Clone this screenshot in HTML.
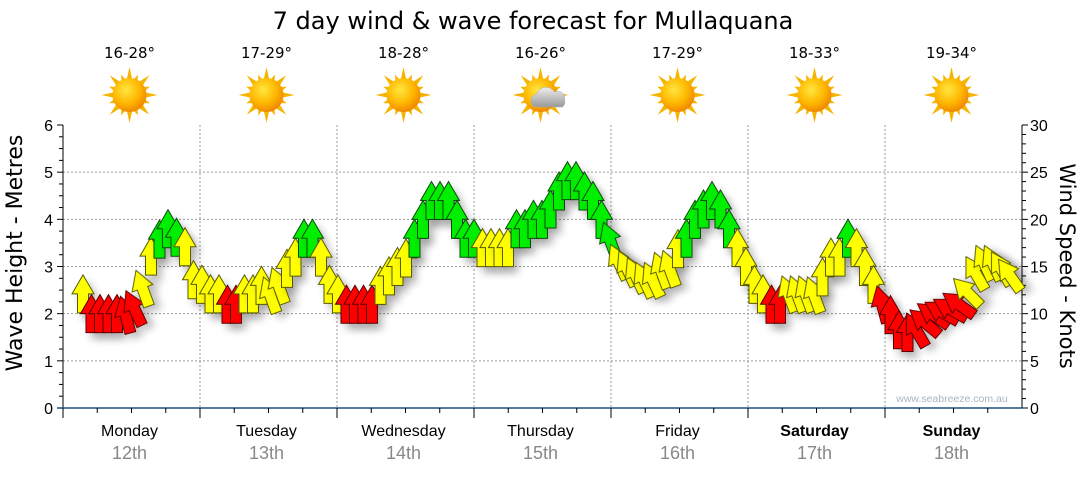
<!DOCTYPE html>
<html><head><meta charset="utf-8"><style>
body{margin:0;background:#fff;}
svg text{font-family:"Liberation Sans","DejaVu Sans",sans-serif;}
</style></head><body>
<svg id="c" width="1080" height="475" viewBox="0 0 1080 475" xmlns="http://www.w3.org/2000/svg">
<defs>
<filter id="sh" x="-50%" y="-50%" width="200%" height="200%"><feGaussianBlur in="SourceAlpha" stdDeviation="4"/><feOffset dx="5" dy="6" result="b"/><feComponentTransfer><feFuncA type="linear" slope="0.25"/></feComponentTransfer><feMerge><feMergeNode/><feMergeNode in="SourceGraphic"/></feMerge></filter>
<radialGradient id="sunG" cx="40%" cy="35%" r="65%"><stop offset="0" stop-color="#ffe640"/><stop offset="0.6" stop-color="#ffb800"/><stop offset="1" stop-color="#f08a00"/></radialGradient>
<linearGradient id="cloudG" x1="0" y1="0" x2="0" y2="1"><stop offset="0" stop-color="#eee"/><stop offset="1" stop-color="#999"/></linearGradient>
</defs>
<text x="533" y="29" font-size="24" text-anchor="middle" fill="#000" style="font-family:'DejaVu Sans',sans-serif">7 day wind &amp; wave forecast for Mullaquana</text>
<g id="grid"></g>
<g id="axes"></g>
<g id="icons"></g>
<g id="arrows"></g>
<text x="952" y="402" font-size="10.5" text-anchor="middle" fill="#aab4c4">www.seabreeze.com.au</text>
<text transform="translate(22,253) rotate(-90)" font-size="22" text-anchor="middle" style="font-family:'DejaVu Sans',sans-serif">Wave Height - Metres</text>
<text transform="translate(1060,266) rotate(90)" font-size="21" text-anchor="middle" style="font-family:'DejaVu Sans',sans-serif">Wind Speed - Knots</text>
</svg>
<script>
const days = ["Monday","Tuesday","Wednesday","Thursday","Friday","Saturday","Sunday"];
const dates = ["12th","13th","14th","15th","16th","17th","18th"];
const temps = ["16-28°","17-29°","18-28°","16-26°","17-29°","18-33°","19-34°"];
const weather = ["sun","sun","sun","cloud","sun","sun","sun"];
const waveTicks = [0,1,2,3,4,5,6];
const windTicks = [0,5,10,15,20,25,30];
// arrow center wind speed (knots)
const windSpeed = [12.1,10.0,10.0,10.0,10.0,9.9,10.6,12.7,16.1,17.9,19.0,18.1,17.1,13.6,
13.1,12.1,12.1,11.0,11.0,12.1,12.1,13.0,12.0,13.0,14.8,16.0,18.0,18.0,16.0,13.1,
12.1,11.0,11.0,11.0,11.0,13.0,14.0,15.0,15.9,18.0,20.0,22.0,22.0,22.0,20.0,18.0,
18.0,17.0,17.0,17.0,17.0,19.0,19.0,20.0,20.0,21.1,23.0,24.1,24.1,23.0,22.0,20.0,
17.8,15.5,14.8,14.1,13.6,13.6,14.6,14.8,16.9,18.0,20.0,21.1,22.0,21.1,19.0,17.0,
15.0,13.1,12.1,11.0,11.0,12.1,12.1,12.1,12.0,13.9,16.0,16.0,18.0,17.0,15.0,13.1,
11.0,9.9,8.3,8.0,8.3,9.1,9.9,10.2,10.5,11.0,12.3,14.3,15.4,15.4,14.8,14.1];
// arrow rotation (degrees, 0 = up)
const windDir = [0,0,0,0,0,-15,-25,-20,0,0,0,0,0,0,
0,0,0,0,0,0,0,0,-20,-20,0,0,0,0,0,0,
0,0,0,0,0,0,0,0,0,0,0,0,0,0,0,0,
0,0,0,0,0,0,0,0,0,0,0,0,0,0,0,0,
-20,-25,-25,-25,-25,-25,-20,-20,0,0,0,0,0,0,0,0,
0,0,0,0,0,-20,-20,-20,-20,0,0,0,0,0,0,0,
-15,0,0,0,-30,-50,-55,-60,-60,-55,-45,-30,-25,-25,-30,-35];
// colour category
const windCat = ["y","r","r","r","r","r","r","y","y","g","g","g","y","y",
"y","y","y","r","r","y","y","y","y","y","y","y","g","g","y","y",
"y","r","r","r","r","y","y","y","y","g","g","g","g","g","g","g",
"g","y","y","y","y","g","g","g","g","g","g","g","g","g","g","g",
"g","y","y","y","y","y","y","y","y","g","g","g","g","g","g","y",
"y","y","y","r","r","y","y","y","y","y","y","y","g","y","y","y",
"r","r","r","r","r","r","r","r","r","r","y","y","y","y","y","y"];

const NS="http://www.w3.org/2000/svg";
const L=63,R=1022,T=125,B=408;
const dayW=(R-L)/7;
const yWave=v=>B-(v/6)*(B-T);
const yWind=v=>B-(v/30)*(B-T);
const xIdx=i=>83+i*8.5;
function mk(tag,attrs,parent){const e=document.createElementNS(NS,tag);for(const k in attrs)e.setAttribute(k,attrs[k]);parent.appendChild(e);return e;}
const grid=document.getElementById('grid'),axes=document.getElementById('axes'),icons=document.getElementById('icons'),arrows=document.getElementById('arrows');

waveTicks.forEach(v=>{
  if(v>0&&v<6){const g=mk('line',{x1:L,x2:R,y1:yWave(v),y2:yWave(v),stroke:'#999','stroke-dasharray':'2,2','stroke-width':1},grid);
  
  }
  const t=mk('text',{x:L-10,y:yWave(v)+6,'font-size':16,'text-anchor':'end'},axes);t.textContent=v;
  
  
});
for(let q=0;q<=24;q++){const y=yWave(q/4);mk('line',{x1:L-(q%4?4:6),x2:L,y1:y,y2:y,stroke:'#000'},axes);}
windTicks.forEach(v=>{
  const t=mk('text',{x:R+8,y:yWind(v)+6,'font-size':16},axes);t.textContent=v;
  
  
});
for(let q=0;q<=30;q++){const y=yWind(q);mk('line',{x1:R,x2:R+(q%5?4:6),y1:y,y2:y,stroke:'#000'},axes);}
mk('line',{x1:L,x2:L,y1:T,y2:B,stroke:'#000'},axes);
mk('line',{x1:R,x2:R,y1:T,y2:B,stroke:'#000'},axes);
mk('line',{x1:L-6,x2:R,y1:B,y2:B,stroke:'#1d4f7a','stroke-width':1.5},axes);

days.forEach((d,i)=>{
  const x0=L+i*dayW,cx=x0+dayW/2;
  if(i>0){const g=mk('line',{x1:x0,x2:x0,y1:T,y2:B,stroke:'#999','stroke-dasharray':'2,2'},grid);
  
  }
  mk('line',{x1:x0,x2:x0,y1:B,y2:B+10,stroke:'#000'},axes);
  for(let k=1;k<4;k++){const x=x0+k*dayW/4;mk('line',{x1:x,x2:x,y1:B,y2:B+5,stroke:'#000'},axes);}
  const t=mk('text',{x:cx-2,y:436,'font-size':16,'text-anchor':'middle','font-weight':i>=5?'bold':'normal'},axes);t.textContent=d;
  
  
  const t2=mk('text',{x:cx-2,y:459,'font-size':18,'text-anchor':'middle',fill:'#888'},axes);t2.textContent=dates[i];
  
  
  const t3=mk('text',{x:cx-2,y:58,'font-size':15,'text-anchor':'middle',style:"font-family:'DejaVu Sans',sans-serif"},icons);t3.textContent=temps[i];
  
  
  const g=mk('g',{transform:`translate(${cx-2},95)`},icons);
  
  
  for(let r=0;r<16;r++){const a=r*22.5*Math.PI/180,len=r%2?22:28;
    const ax=Math.sin(a),ay=-Math.cos(a),px=Math.cos(a)*3.5,py=Math.sin(a)*3.5;
    mk('polygon',{points:`${ax*len},${ay*len} ${ax*12+px},${ay*12+py} ${ax*12-px},${ay*12-py}`,fill:'#f5b400'},g);}
  mk('circle',{r:17,fill:'url(#sunG)'},g);
  if(weather[i]==='cloud'){mk('path',{d:'M-6,12 a7,7 0 0 1 2,-13 a10,10 0 0 1 18,-2 a7,7 0 0 1 10,8 a6,6 0 0 1 -2,7 z',fill:'url(#cloudG)',stroke:'#aaa','stroke-width':0.5},g);}
});

const fills={r:'#ff0000',y:'#ffff00',g:'#00ee00'};
const strokes={r:'#5a0000',y:'#5a5a00',g:'#0a4a0a'};
windSpeed.forEach((v,i)=>{
  const cx=xIdx(i),cy=yWind(v),c=windCat[i];
  const p=mk('polygon',{points:'0,-19 11,0 5.5,0 5.5,19 -5.5,19 -5.5,0 -11,0',transform:`translate(${cx},${cy}) rotate(${windDir[i]})`,fill:fills[c],stroke:strokes[c],'stroke-width':1,filter:'url(#sh)'},arrows);
  
  
});
</script>
</body></html>
